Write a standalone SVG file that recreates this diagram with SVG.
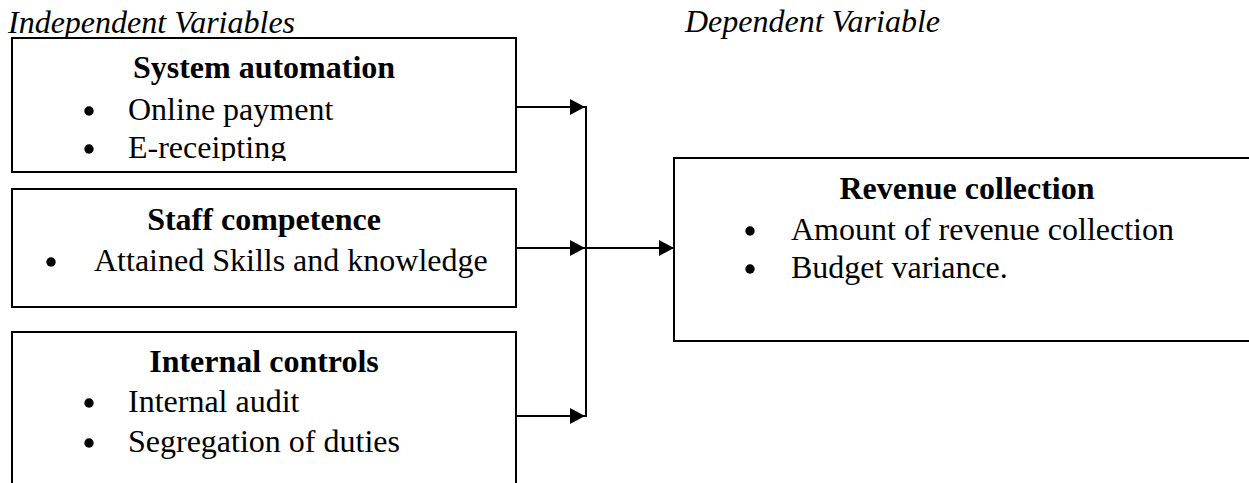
<svg xmlns="http://www.w3.org/2000/svg" width="1249" height="483" viewBox="0 0 1249 483">
<style>
.box{fill:#fff;stroke:#000;stroke-width:2}
.t{font-family:"Liberation Serif","Times New Roman",serif;font-size:32px;fill:#000}
.h{font-weight:bold;text-anchor:middle}
.i{font-style:italic}
.b{fill:#000}
.c{stroke:#000;stroke-width:2;fill:none}
</style>
<defs>
<marker id="ah" markerWidth="16" markerHeight="16" refX="15" refY="8" orient="auto" markerUnits="userSpaceOnUse">
<path d="M0,0 L15,8 L0,16 Z" fill="#000"/>
</marker>
<clipPath id="clip1"><rect x="12" y="38" width="504" height="123"/></clipPath>
</defs>
<rect width="1249" height="483" fill="#fff"/>
<text class="t i" x="8" y="33">Independent Variables</text>
<text class="t i" x="685" y="32">Dependent Variable</text>

<g id="system-automation">
<rect class="box" x="12" y="38" width="504" height="134"/>
<text class="t h" x="264" y="78">System automation</text>
<g clip-path="url(#clip1)">
<circle class="b" cx="89" cy="111" r="4.7"/>
<text class="t" x="128" y="120">Online payment</text>
<circle class="b" cx="89" cy="149" r="4.7"/>
<text class="t" x="128" y="158">E-receipting</text>
</g>
</g>

<g id="staff-competence">
<rect class="box" x="12" y="189" width="504" height="118"/>
<text class="t h" x="264" y="230">Staff competence</text>
<circle class="b" cx="51" cy="262" r="4.7"/>
<text class="t" x="94" y="271">Attained Skills and knowledge</text>
</g>

<g id="internal-controls">
<rect class="box" x="12" y="332" width="504" height="170"/>
<text class="t h" x="264" y="372">Internal controls</text>
<circle class="b" cx="89" cy="403" r="4.7"/>
<text class="t" x="128" y="412">Internal audit</text>
<circle class="b" cx="89" cy="443" r="4.7"/>
<text class="t" x="128" y="452">Segregation of duties</text>
</g>

<g id="revenue-collection">
<rect class="box" x="674" y="158" width="600" height="183"/>
<text class="t h" x="967" y="199">Revenue collection</text>
<circle class="b" cx="750" cy="231" r="4.7"/>
<text class="t" x="791" y="240">Amount of revenue collection</text>
<circle class="b" cx="750" cy="269" r="4.7"/>
<text class="t" x="791" y="278">Budget variance.</text>
</g>

<g id="connectors">
<line class="c" x1="586" y1="106" x2="586" y2="417"/>
<line class="c" x1="516" y1="107" x2="585" y2="107" marker-end="url(#ah)"/>
<line class="c" x1="516" y1="248" x2="585" y2="248" marker-end="url(#ah)"/>
<line class="c" x1="516" y1="416" x2="585" y2="416" marker-end="url(#ah)"/>
<line class="c" x1="586" y1="248" x2="674" y2="248" marker-end="url(#ah)"/>
</g>
</svg>
